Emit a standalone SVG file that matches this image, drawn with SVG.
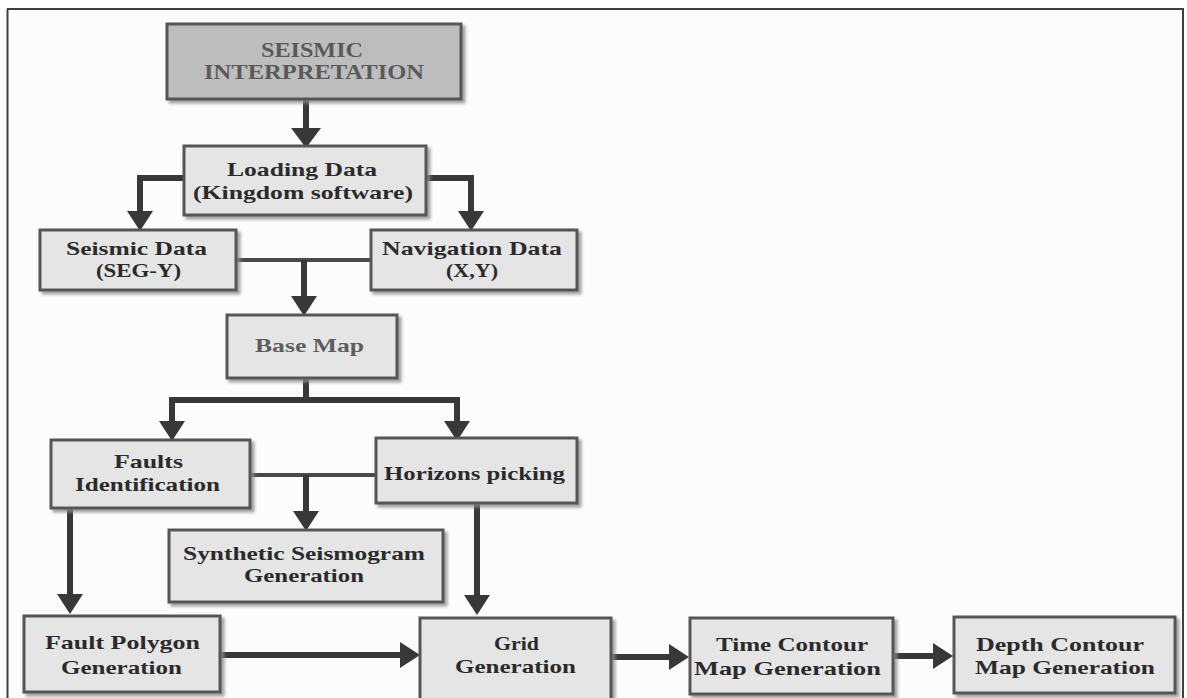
<svg xmlns="http://www.w3.org/2000/svg" width="1187" height="698" viewBox="0 0 1187 698">
  <defs>
    <filter id="shadow" x="-10%" y="-10%" width="125%" height="130%">
      <feDropShadow dx="3" dy="3" stdDeviation="1.6" flood-color="#8a8a8a" flood-opacity="0.8"/>
    </filter>
    <marker id="arrow" viewBox="0 0 20 26" refX="13" refY="13" markerWidth="20" markerHeight="26" markerUnits="userSpaceOnUse" orient="auto">
      <path d="M0,0 L20,13 L0,26 Z" fill="#383838"/>
    </marker>
    <marker id="arrowBig" viewBox="0 0 20 30" refX="13" refY="15" markerWidth="20" markerHeight="30" markerUnits="userSpaceOnUse" orient="auto">
      <path d="M0,0 L20,15 L0,30 Z" fill="#383838"/>
    </marker>
  </defs>
  <style>
    .box { fill: #e5e5e5; stroke: #575757; stroke-width: 3; filter: url(#shadow); }
    .box.head { fill: #bdbdbd; }
    .lbl { font-family: "Liberation Serif", "Times New Roman", serif; font-weight: bold; font-size: 19px; fill: #2b2b2b; }
    .lbl.soft { fill: #5e5e5e; }
    .lbl.title { font-size: 20px; fill: #5a5a5a; }
    .conn { fill: none; stroke: #383838; stroke-width: 6; stroke-linejoin: miter; }
    .conn.thin { stroke: #4a4a4a; stroke-width: 4; }
    .frame { fill: none; stroke: #3f3f3f; stroke-width: 2; }
  </style>

  <rect x="0" y="0" width="1187" height="698" fill="#ffffff"/>
  <rect x="8" y="10" width="1175" height="700" fill="#fcfcfc"/>

  <!-- outer frame -->
  <g id="frame">
    <line class="frame" x1="7" y1="9" x2="1184" y2="9"/>
    <line class="frame" x1="7.5" y1="9" x2="7.5" y2="698"/>
    <line class="frame" x1="1183" y1="9" x2="1183" y2="698" stroke="#9a9a9a"/>
  </g>

  <!-- connectors -->
  <g id="connectors">
    <line class="conn" x1="306" y1="99" x2="306" y2="141" marker-end="url(#arrowBig)"/>
    <polyline class="conn" points="184,178 140,178 140,224" marker-end="url(#arrow)"/>
    <polyline class="conn" points="426,178 471,178 471,224" marker-end="url(#arrow)"/>
    <line class="conn thin" x1="236" y1="260" x2="371" y2="260"/>
    <line class="conn" x1="304" y1="260" x2="304" y2="309" marker-end="url(#arrow)"/>
    <line class="conn" x1="306" y1="378" x2="306" y2="400"/>
    <polyline class="conn" points="172,434 172,400 457,400 457,434" marker-end="url(#arrow)"/>
    <line class="conn" x1="172" y1="403" x2="172" y2="434" marker-end="url(#arrow)"/>
    <line class="conn thin" x1="250" y1="475" x2="376" y2="475"/>
    <line class="conn" x1="306" y1="475" x2="306" y2="524" marker-end="url(#arrow)"/>
    <line class="conn" x1="70" y1="508" x2="70" y2="607" marker-end="url(#arrow)"/>
    <line class="conn" x1="477" y1="503" x2="477" y2="608" marker-end="url(#arrow)"/>
    <line class="conn" x1="220" y1="655" x2="413" y2="655" marker-end="url(#arrow)"/>
    <line class="conn" x1="611" y1="657" x2="682" y2="657" marker-end="url(#arrow)"/>
    <line class="conn" x1="893" y1="656" x2="946" y2="656" marker-end="url(#arrow)"/>
  </g>

  <g id="seismic-interpretation">
    <rect class="box head" x="167" y="24" width="294" height="75"/>
    <text class="lbl title" x="261" y="57" textLength="102" lengthAdjust="spacingAndGlyphs">SEISMIC</text>
    <text class="lbl title" x="204" y="79" textLength="220" lengthAdjust="spacingAndGlyphs">INTERPRETATION</text>
  </g>

  <g id="loading-data">
    <rect class="box" x="184" y="146" width="242" height="69"/>
    <text class="lbl" x="227" y="176" textLength="150" lengthAdjust="spacingAndGlyphs">Loading Data</text>
    <text class="lbl" x="193" y="199" textLength="220" lengthAdjust="spacingAndGlyphs">(Kingdom software)</text>
  </g>

  <g id="seismic-data">
    <rect class="box" x="40" y="230" width="196" height="60"/>
    <text class="lbl" x="66" y="255" textLength="141" lengthAdjust="spacingAndGlyphs">Seismic Data</text>
    <text class="lbl" x="96" y="277" textLength="85" lengthAdjust="spacingAndGlyphs">(SEG-Y)</text>
  </g>

  <g id="navigation-data">
    <rect class="box" x="371" y="230" width="206" height="60"/>
    <text class="lbl" x="382" y="255" textLength="180" lengthAdjust="spacingAndGlyphs">Navigation Data</text>
    <text class="lbl" x="446" y="277" textLength="52" lengthAdjust="spacingAndGlyphs">(X,Y)</text>
  </g>

  <g id="base-map">
    <rect class="box" x="227" y="315" width="170" height="63"/>
    <text class="lbl soft" x="255" y="352" textLength="109" lengthAdjust="spacingAndGlyphs">Base Map</text>
  </g>

  <g id="faults-identification">
    <rect class="box" x="51" y="440" width="199" height="68"/>
    <text class="lbl" x="114" y="468" textLength="69" lengthAdjust="spacingAndGlyphs">Faults</text>
    <text class="lbl" x="75" y="491" textLength="145" lengthAdjust="spacingAndGlyphs">Identification</text>
  </g>

  <g id="horizons-picking">
    <rect class="box" x="376" y="438" width="201" height="65"/>
    <text class="lbl" x="384" y="480" textLength="181" lengthAdjust="spacingAndGlyphs">Horizons picking</text>
  </g>

  <g id="synthetic-seismogram">
    <rect class="box" x="169" y="530" width="274" height="72"/>
    <text class="lbl" x="183" y="560" textLength="242" lengthAdjust="spacingAndGlyphs">Synthetic Seismogram</text>
    <text class="lbl" x="244" y="582" textLength="120" lengthAdjust="spacingAndGlyphs">Generation</text>
  </g>

  <g id="fault-polygon">
    <rect class="box" x="24" y="616" width="196" height="76"/>
    <text class="lbl" x="45" y="649" textLength="155" lengthAdjust="spacingAndGlyphs">Fault Polygon</text>
    <text class="lbl" x="61" y="674" textLength="121" lengthAdjust="spacingAndGlyphs">Generation</text>
  </g>

  <g id="grid-generation">
    <rect class="box" x="420" y="618" width="191" height="84"/>
    <text class="lbl" x="494" y="650" textLength="45" lengthAdjust="spacingAndGlyphs">Grid</text>
    <text class="lbl" x="455" y="673" textLength="121" lengthAdjust="spacingAndGlyphs">Generation</text>
  </g>

  <g id="time-contour">
    <rect class="box" x="690" y="618" width="203" height="76"/>
    <text class="lbl" x="716" y="651" textLength="152" lengthAdjust="spacingAndGlyphs">Time Contour</text>
    <text class="lbl" x="694" y="675" textLength="187" lengthAdjust="spacingAndGlyphs">Map Generation</text>
  </g>

  <g id="depth-contour">
    <rect class="box" x="954" y="617" width="221" height="76"/>
    <text class="lbl" x="976" y="651" textLength="168" lengthAdjust="spacingAndGlyphs">Depth Contour</text>
    <text class="lbl" x="975" y="674" textLength="180" lengthAdjust="spacingAndGlyphs">Map Generation</text>
  </g>
</svg>
